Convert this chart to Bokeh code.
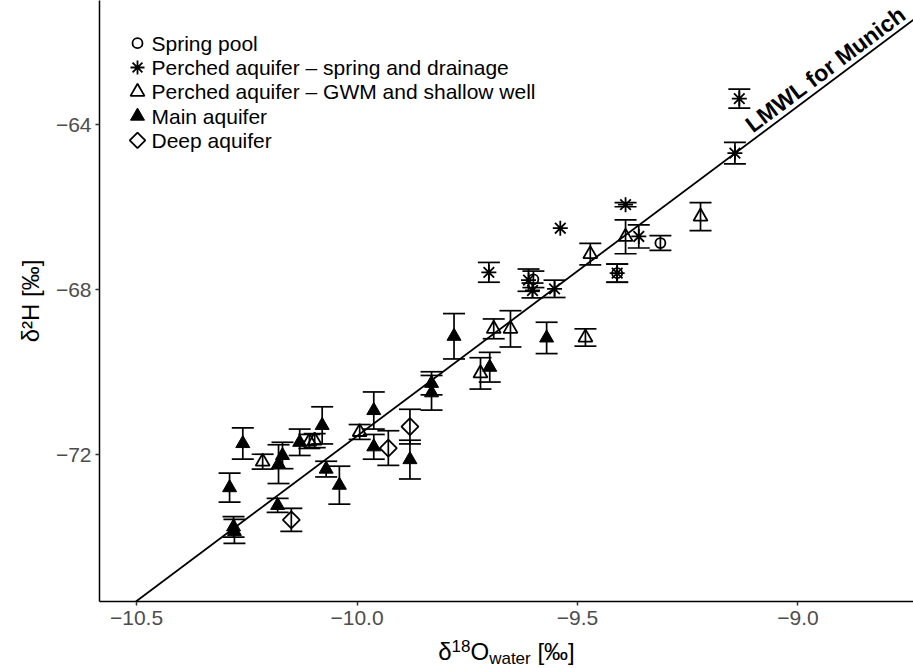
import math

from bokeh.plotting import figure
from bokeh.layouts import column
from bokeh.models import (ColumnDataSource, Whisker, TeeHead, Slope, Label, FixedTicker)
from bokeh.core.properties import value
from bokeh.embed import file_html
from bokeh.resources import INLINE

# ---- data: d18O (x), d2H (y) and the 1-sigma spread of d2H, per water type ----
spring_pool_d18o = [-9.600, -9.410, -9.312]
spring_pool_d2h = [-67.75, -67.60, -66.87]
spring_pool_err = [0.20, 0.22, 0.18]

perched_spring_d18o = [-9.701, -9.611, -9.602, -9.552, -9.539, -9.391, -9.361, -9.410, -9.143, -9.133]
perched_spring_d2h = [-67.58, -67.77, -68.02, -67.98, -66.51, -65.94, -66.71, -67.60, -64.69, -63.37]
perched_spring_err = [0.24, 0.27, 0.18, 0.21, 0.0, 0.05, 0.28, 0.22, 0.26, 0.23]

perched_gwm_d18o = [-10.214, -10.108, -10.096, -9.994, -9.720, -9.690, -9.652, -9.482, -9.471, -9.391, -9.221]
perched_gwm_d2h = [-72.17, -71.68, -71.66, -71.45, -70.03, -68.95, -68.95, -69.16, -67.14, -66.72, -66.23]
perched_gwm_err = [0.18, 0.17, 0.17, 0.18, 0.38, 0.24, 0.44, 0.21, 0.26, 0.41, 0.34]

main_d18o = [-10.259, -10.289, -10.280, -10.278, -10.169, -10.178, -10.130, -10.079, -10.070, -10.040,
             -10.180, -9.962, -9.962, -9.880, -9.831, -9.831, -9.780, -9.699, -9.570]
main_d2h = [-71.73, -72.80, -73.75, -73.86, -72.02, -72.23, -71.70, -71.29, -72.35, -72.74,
            -73.23, -70.93, -71.81, -72.12, -70.27, -70.50, -69.13, -69.88, -69.17]
main_err = [0.38, 0.35, 0.25, 0.29, 0.32, 0.47, 0.32, 0.45, 0.19, 0.46,
            0.17, 0.45, 0.30, 0.47, 0.28, 0.42, 0.55, 0.36, 0.38]

deep_d18o = [-10.149, -9.929, -9.880]
deep_d2h = [-73.58, -71.84, -71.32]
deep_err = [0.28, 0.42, 0.42]

group_labels = ["Spring pool",
                "Perched aquifer \u2013 spring and drainage",
                "Perched aquifer \u2013 GWM and shallow well",
                "Main aquifer",
                "Deep aquifer"]

# local meteoric water line
lmwl_slope = 8.0
lmwl_intercept = 8.45
lmwl_label = "LMWL for Munich"

x_ticks = [-10.5, -10.0, -9.5, -9.0]
x_tick_labels = ["\u221210.5", "\u221210.0", "\u22129.5", "\u22129.0"]
y_ticks = [-72, -68, -64]
y_tick_labels = ["\u221272", "\u221268", "\u221264"]

X_RANGE = (-10.584, -8.738)
Y_RANGE = (-75.56, -60.99)

# ---- layout ----
W, H = 913, 668
TITLE_H = 32                      # strip under the plot holding the x-axis title
PLOT_H = H - TITLE_H
BORDER_L, BORDER_R, BORDER_T, BORDER_B = 99, 0, 0, 35
FRAME_W = W - BORDER_L - BORDER_R
FRAME_H = PLOT_H - BORDER_T - BORDER_B
FONT = "Liberation Sans"

p = figure(width=W, height=PLOT_H, x_range=X_RANGE, y_range=Y_RANGE,
           output_backend="svg", toolbar_location=None,
           min_border_left=BORDER_L, min_border_right=BORDER_R,
           min_border_top=BORDER_T, min_border_bottom=BORDER_B)
p.xgrid.visible = False
p.ygrid.visible = False
p.outline_line_color = None
p.background_fill_color = "white"

for ax, ticks, labels in ((p.xaxis[0], x_ticks, x_tick_labels), (p.yaxis[0], y_ticks, y_tick_labels)):
    ax.ticker = FixedTicker(ticks=ticks)
    ax.major_label_overrides = dict(zip(ticks, labels))
    ax.axis_line_color = "black"
    ax.axis_line_width = 1.5
    ax.major_tick_line_color = "#333333"
    ax.major_tick_line_width = 1.5
    ax.major_tick_out = 4
    ax.major_tick_in = 0
    ax.minor_tick_line_color = None
    ax.major_label_text_font = FONT
    ax.major_label_text_font_size = "21px"
    ax.major_label_text_color = "#4D4D4D"

p.xaxis.major_label_standoff = 5
p.yaxis.major_label_standoff = 4
p.yaxis.axis_label = "\u03b4\u00b2H [\u2030]"
p.yaxis.axis_label_text_font = FONT
p.yaxis.axis_label_text_font_size = "24px"
p.yaxis.axis_label_text_font_style = "normal"
p.yaxis.axis_label_text_color = "black"
p.yaxis.axis_label_standoff = 9

# ---- error bars (drawn beneath the symbols) ----
all_x = spring_pool_d18o + perched_spring_d18o + perched_gwm_d18o + main_d18o + deep_d18o
all_y = spring_pool_d2h + perched_spring_d2h + perched_gwm_d2h + main_d2h + deep_d2h
all_e = spring_pool_err + perched_spring_err + perched_gwm_err + main_err + deep_err
eb_x, eb_lo, eb_hi = [], [], []
for x, y, e in zip(all_x, all_y, all_e):
    if e > 0:
        eb_x.append(x)
        eb_lo.append(y - e)
        eb_hi.append(y + e)
eb_src = ColumnDataSource(dict(x=eb_x, lower=eb_lo, upper=eb_hi))
whisker = Whisker(source=eb_src, base="x", lower="lower", upper="upper", dimension="height",
                  line_color="black", line_width=1.7, level="underlay",
                  upper_head=TeeHead(size=22, line_color="black", line_width=1.7),
                  lower_head=TeeHead(size=22, line_color="black", line_width=1.7))
p.add_layout(whisker)

# ---- symbol styles per group (same order as group_labels) ----
styles = [
    dict(marker="circle", size=10, fill_color=None, line_color="black", line_width=1.8),
    dict(marker="asterisk", size=15, line_color="black", line_width=1.8),
    dict(marker="triangle", size=14, fill_color=None, line_color="black", line_width=1.8),
    dict(marker="triangle", size=14, fill_color="black", line_color="black", line_width=1),
    dict(marker="square", angle=math.pi / 4, size=12, fill_color=None, line_color="black", line_width=1.8),
]
groups = [(spring_pool_d18o, spring_pool_d2h), (perched_spring_d18o, perched_spring_d2h),
          (perched_gwm_d18o, perched_gwm_d2h), (main_d18o, main_d2h), (deep_d18o, deep_d2h)]
draw_order = [3, 2, 4, 0, 1]
for gi in draw_order:
    xs, ys = groups[gi]
    p.scatter("x", "y", source=ColumnDataSource(dict(x=xs, y=ys)), **styles[gi])

# ---- meteoric water line and its label ----
p.add_layout(Slope(gradient=lmwl_slope, y_intercept=lmwl_intercept, line_color="black", line_width=1.8))

px_per_x = FRAME_W / (X_RANGE[1] - X_RANGE[0])
px_per_y = FRAME_H / (Y_RANGE[1] - Y_RANGE[0])
line_angle = math.atan(lmwl_slope * px_per_y / px_per_x)
lab_x = -9.095
gap = 13
p.add_layout(Label(x=lab_x, y=lmwl_slope * lab_x + lmwl_intercept, text=lmwl_label,
                   angle=line_angle, x_offset=-gap * math.sin(line_angle), y_offset=gap * math.cos(line_angle),
                   text_font=FONT, text_font_size="23px", text_font_style="bold",
                   text_baseline="middle", text_align="left", text_color="black"))

# ---- legend: keys and labels in the top-left corner of the frame ----
KEY_X, TEXT_X = 38, 52            # px from the frame's left edge
ROW0, ROW_STEP = 42.7, 24.3       # px from the frame's top edge
key_sizes = [10, 14, 14, 14, 11]
for i, (lbl, st) in enumerate(zip(group_labels, styles)):
    row_y = ROW0 + i * ROW_STEP
    key = dict(st)
    key["size"] = key_sizes[i]
    p.scatter(x=[X_RANGE[0] + KEY_X / px_per_x], y=[Y_RANGE[1] - row_y / px_per_y], **key)
    p.add_layout(Label(x=TEXT_X, y=FRAME_H - row_y, x_units="screen", y_units="screen",
                       text=lbl, text_font=FONT, text_font_size="21px", text_color="black",
                       text_baseline="middle", text_align="left"))

# ---- x-axis title strip with super- and subscript pieces ----
t = figure(width=W, height=TITLE_H, x_range=(0, FRAME_W), y_range=(0, TITLE_H),
           output_backend="svg", toolbar_location=None,
           x_axis_location=None, y_axis_location=None,
           min_border_left=BORDER_L, min_border_right=BORDER_R,
           min_border_top=0, min_border_bottom=0)
t.grid.visible = False
t.outline_line_color = None

ADV = {"\u03b4": 556, "1": 556, "8": 556, "O": 778, "w": 722, "a": 556, "t": 278, "e": 556,
       "r": 333, " ": 278, "[": 278, "\u2030": 1000, "]": 278}

def text_w(s, size):
    return sum(ADV[c] for c in s) / 1000 * size

TITLE_SIZE, SMALL_SIZE = 24, 17
# (text, font size, vertical centre in px above the strip's bottom, gap before)
pieces = [("\u03b4", TITLE_SIZE, 17, 0), ("18", SMALL_SIZE, 23, 0), ("O", TITLE_SIZE, 17, 0),
          ("water", SMALL_SIZE, 10, 0), ("[\u2030]", TITLE_SIZE, 17, text_w(" ", TITLE_SIZE))]
total_w = sum(text_w(s, sz) + g for s, sz, _, g in pieces)
cursor = FRAME_W / 2 - total_w / 2
for s, sz, yc, g in pieces:
    cursor += g
    t.text(x=[cursor], y=[yc], text=[s], text_font=value(FONT),
           text_font_size=f"{sz}px", text_color="black",
           text_baseline="middle", text_align="left")
    cursor += text_w(s, sz)

open("out.html", "w").write(file_html(column(p, t, spacing=0), INLINE))
